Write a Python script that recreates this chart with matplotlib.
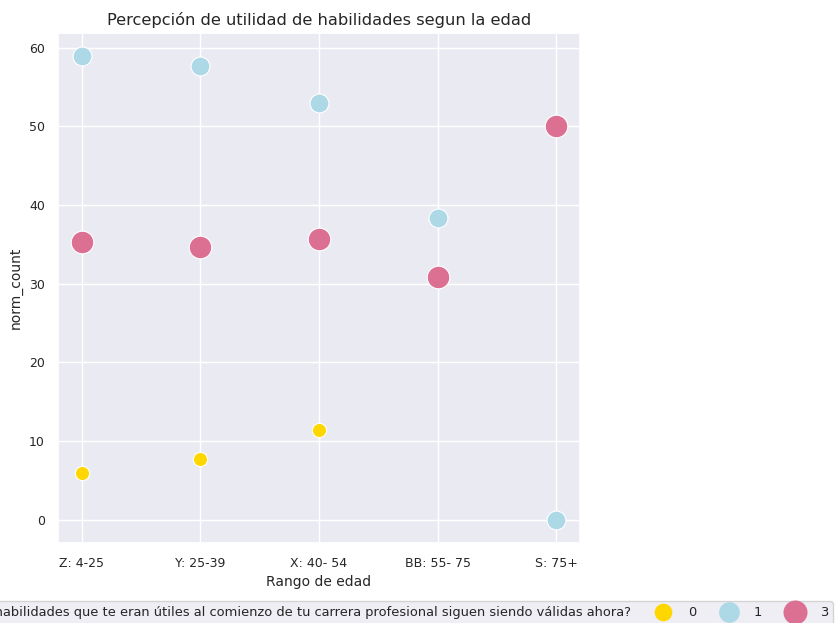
import numpy as np
import matplotlib.pyplot as plt
from matplotlib.lines import Line2D
import seaborn as sns

sns.set_theme(style="darkgrid")
plt.rcParams['font.family'] = ['DejaVu Sans']

rangos = ['Z: 4-25', 'Y: 25-39', 'X: 40- 54', 'BB: 55- 75', 'S: 75+']
resp_0 = [5.9, 7.7, 11.4]
resp_1 = [58.9, 57.7, 52.9, 38.4, 0.0]
resp_3 = [35.3, 34.7, 35.7, 30.8, 50.0]

colores = {'0': '#FFD700', '1': '#ADD8E6', '3': '#DB7093'}
tamanos = {'0': 105, '1': 185, '3': 265}
tam_leyenda = {'0': 12.7, '1': 14.9, '3': 17.3}
pregunta = '¿Las habilidades que te eran útiles al comienzo de tu carrera profesional siguen siendo válidas ahora?'

fig = plt.figure(figsize=(8.35, 6.23), dpi=100)
ax = fig.add_axes([58/835, 1 - 543/623, 522/835, 510/623])

x = np.arange(len(rangos))
ax.scatter(x[:len(resp_0)], resp_0, s=tamanos['0'], c=colores['0'], edgecolor='white', linewidth=0.8, zorder=3)
ax.scatter(x, resp_1, s=tamanos['1'], c=colores['1'], edgecolor='white', linewidth=0.8, zorder=3)
ax.scatter(x, resp_3, s=tamanos['3'], c=colores['3'], edgecolor='white', linewidth=0.8, zorder=3)

ax.set_xticks(x)
ax.set_xticklabels(rangos, fontsize=9)
ax.tick_params(axis='y', labelsize=9)
ax.tick_params(axis='x', pad=4)
ax.set_yticks([0, 10, 20, 30, 40, 50, 60])
ax.set_xlabel('Rango de edad', fontsize=10)
ax.set_ylabel('norm_count', fontsize=10)
ax.set_title('Percepción de utilidad de habilidades segun la edad', fontsize=11.7)

handles = [Line2D([], [], linestyle='', marker='o', markersize=0)]
labels = [pregunta]
for k in ['0', '1', '3']:
    handles.append(Line2D([], [], linestyle='', marker='o', markersize=tam_leyenda[k],
                          markerfacecolor=colores[k], markeredgewidth=0))
    labels.append(k)
leg = fig.legend(handles, labels, ncol=4, loc='upper right', bbox_to_anchor=(833/835, 1 - 601/623),
                 fontsize=9.4, frameon=True, handlelength=1.0, handletextpad=1.4,
                 columnspacing=2.0, borderpad=0.4, borderaxespad=0)
leg.get_frame().set_facecolor('#eaeaf2')
leg.get_frame().set_edgecolor('#cccccc')

fig.savefig('out.png', dpi=100)
